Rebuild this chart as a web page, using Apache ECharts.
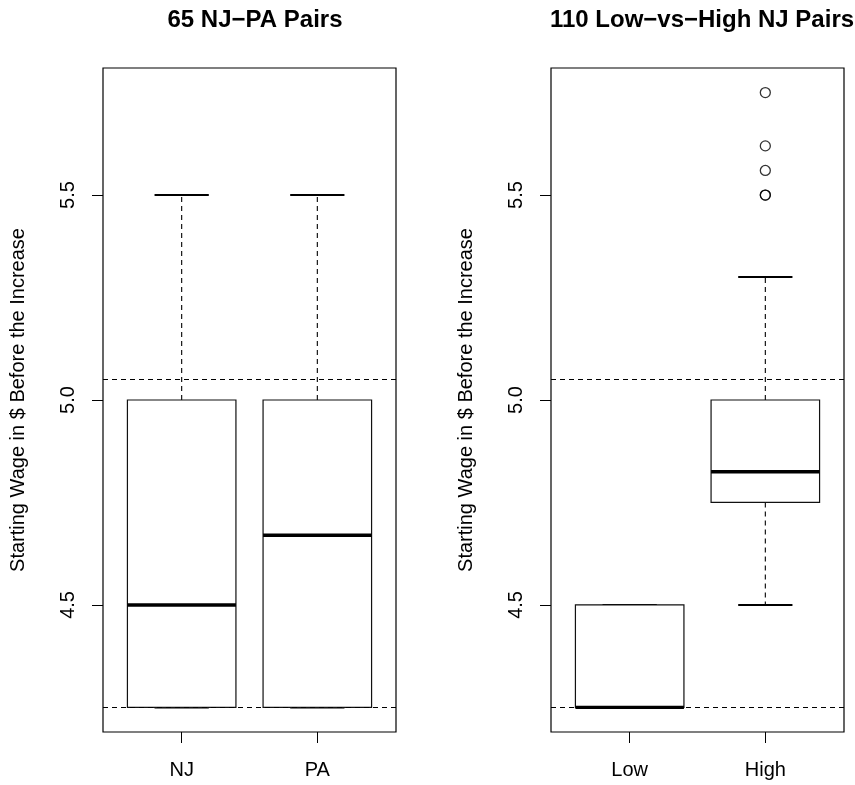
<!DOCTYPE html>
<html>
<head>
<meta charset="utf-8">
<script src="https://cdn.jsdelivr.net/npm/echarts@6/dist/echarts.min.js"></script>
<style>
  html, body { margin: 0; padding: 0; background: #fff; }
  #chart { width: 855px; height: 785px; }
</style>
</head>
<body>
<div id="chart"></div>
<script>
// Panel titles and group names
const titles = ['65 NJ\u2212PA Pairs', '110 Low\u2212vs\u2212High NJ Pairs'];
const categoriesLeft = ['NJ', 'PA'];
const categoriesRight = ['Low', 'High'];

// Five-number summaries: [lower whisker, Q1, median, Q3, upper whisker]
const statsNJ = [4.25, 4.25, 4.50, 5.00, 5.50];
const statsPA = [4.25, 4.25, 4.67, 5.00, 5.50];
const statsLow = [4.25, 4.25, 4.25, 4.50, 4.50];
const statsHigh = [4.50, 4.75, 4.825, 5.00, 5.30];

// Outlying stores in the High group (5.50 occurs more than once)
const outliersHigh = [5.50, 5.50, 5.56, 5.62, 5.75];

// Dashed reference levels
const refLevels = [4.25, 5.05];

// Y tick labels
const yTicks = [4.5, 5.0, 5.5];

const axisTitle = 'Starting Wage in $ Before the Increase';
const FONT = '"Liberation Sans", Arial, Helvetica, sans-serif';

const chart = echarts.init(document.getElementById('chart'), null, { renderer: 'canvas' });

function boxRender(params, api) {
  const x = api.value(0);
  const lo = api.value(1), q1 = api.value(2), med = api.value(3), q3 = api.value(4), hi = api.value(5);
  const half = api.size([0.8, 0])[0] / 2;
  const stapleHalf = half / 2;
  const cx = api.coord([x, med])[0];
  const yLo = api.coord([x, lo])[1];
  const yQ1 = api.coord([x, q1])[1];
  const yMed = api.coord([x, med])[1];
  const yQ3 = api.coord([x, q3])[1];
  const yHi = api.coord([x, hi])[1];
  const dash = { stroke: '#000', lineWidth: 1.1, lineDash: [5, 4] };
  const solid = { stroke: '#000', lineWidth: 2 };
  return {
    type: 'group',
    children: [
      { type: 'line', shape: { x1: cx, y1: yQ3, x2: cx, y2: yHi }, style: dash },
      { type: 'line', shape: { x1: cx, y1: yQ1, x2: cx, y2: yLo }, style: dash },
      { type: 'line', shape: { x1: cx - stapleHalf, y1: yHi, x2: cx + stapleHalf, y2: yHi }, style: solid },
      { type: 'line', shape: { x1: cx - stapleHalf, y1: yLo, x2: cx + stapleHalf, y2: yLo }, style: solid },
      { type: 'rect', shape: { x: cx - half, y: yQ3, width: half * 2, height: yQ1 - yQ3 },
        style: { fill: '#fff', stroke: '#111', lineWidth: 1.2 } },
      { type: 'line', shape: { x1: cx - half, y1: yMed, x2: cx + half, y2: yMed },
        style: { stroke: '#000', lineWidth: 3.4 } }
    ]
  };
}

function xAxisFor(gridIndex, cats) {
  return {
    type: 'value', gridIndex: gridIndex, min: 0.42, max: 2.58,
    axisLine: { show: false },
    splitLine: { show: false },
    axisTick: { show: true, inside: false, length: 11, customValues: [1, 2], lineStyle: { color: '#000', width: 1 } },
    axisLabel: { show: true, customValues: [1, 2], margin: 28, color: '#000', fontSize: 20, fontFamily: FONT,
      formatter: v => cats[Math.round(v) - 1] }
  };
}

function yAxisFor(gridIndex) {
  return {
    type: 'value', gridIndex: gridIndex, min: 4.19, max: 5.81,
    name: axisTitle, nameLocation: 'middle', nameRotate: 90, nameGap: 75,
    nameTextStyle: { color: '#000', fontSize: 20, fontFamily: FONT },
    axisLine: { show: false },
    splitLine: { show: false },
    axisTick: { show: true, inside: false, length: 11, customValues: yTicks, lineStyle: { color: '#000', width: 1 } },
    axisLabel: { show: true, customValues: yTicks, rotate: 90, margin: 25, color: '#000', fontSize: 20, fontFamily: FONT,
      formatter: v => v.toFixed(1) }
  };
}

function refLine(xi, yi) {
  return {
    type: 'line', xAxisIndex: xi, yAxisIndex: yi, data: [], silent: true, z: 4,
    markLine: {
      silent: true, symbol: ['none', 'none'], label: { show: false },
      lineStyle: { color: '#000', width: 1.1, type: [5, 4] },
      data: refLevels.map(v => ({ yAxis: v }))
    }
  };
}

const option = {
  animation: false,
  backgroundColor: '#fff',
  title: [
    { text: titles[0], left: 250, top: 3, textAlign: 'center',
      textStyle: { fontSize: 24, fontWeight: 'bold', color: '#000', fontFamily: FONT } },
    { text: titles[1], left: 697, top: 3, textAlign: 'center',
      textStyle: { fontSize: 24, fontWeight: 'bold', color: '#000', fontFamily: FONT } }
  ],
  grid: [
    { left: 103, right: 459, top: 68, bottom: 53, show: true, borderColor: '#000', borderWidth: 1.2, backgroundColor: 'transparent' },
    { left: 551, right: 11, top: 68, bottom: 53, show: true, borderColor: '#000', borderWidth: 1.2, backgroundColor: 'transparent' }
  ],
  xAxis: [xAxisFor(0, categoriesLeft), xAxisFor(1, categoriesRight)],
  yAxis: [yAxisFor(0), yAxisFor(1)],
  series: [
    {
      type: 'custom', xAxisIndex: 0, yAxisIndex: 0, renderItem: boxRender,
      encode: { x: 0, y: [1, 2, 3, 4, 5] },
      data: [[1].concat(statsNJ), [2].concat(statsPA)], z: 2
    },
    {
      type: 'custom', xAxisIndex: 1, yAxisIndex: 1, renderItem: boxRender,
      encode: { x: 0, y: [1, 2, 3, 4, 5] },
      data: [[1].concat(statsLow), [2].concat(statsHigh)], z: 2
    },
    refLine(0, 0),
    refLine(1, 1),
    {
      type: 'scatter', xAxisIndex: 1, yAxisIndex: 1, symbol: 'circle', symbolSize: 10,
      itemStyle: { color: 'rgba(0,0,0,0)', borderColor: '#000', borderWidth: 1.3 },
      data: outliersHigh.map(v => [2, v]), z: 3
    }
  ]
};

chart.setOption(option);
</script>
</body>
</html>
